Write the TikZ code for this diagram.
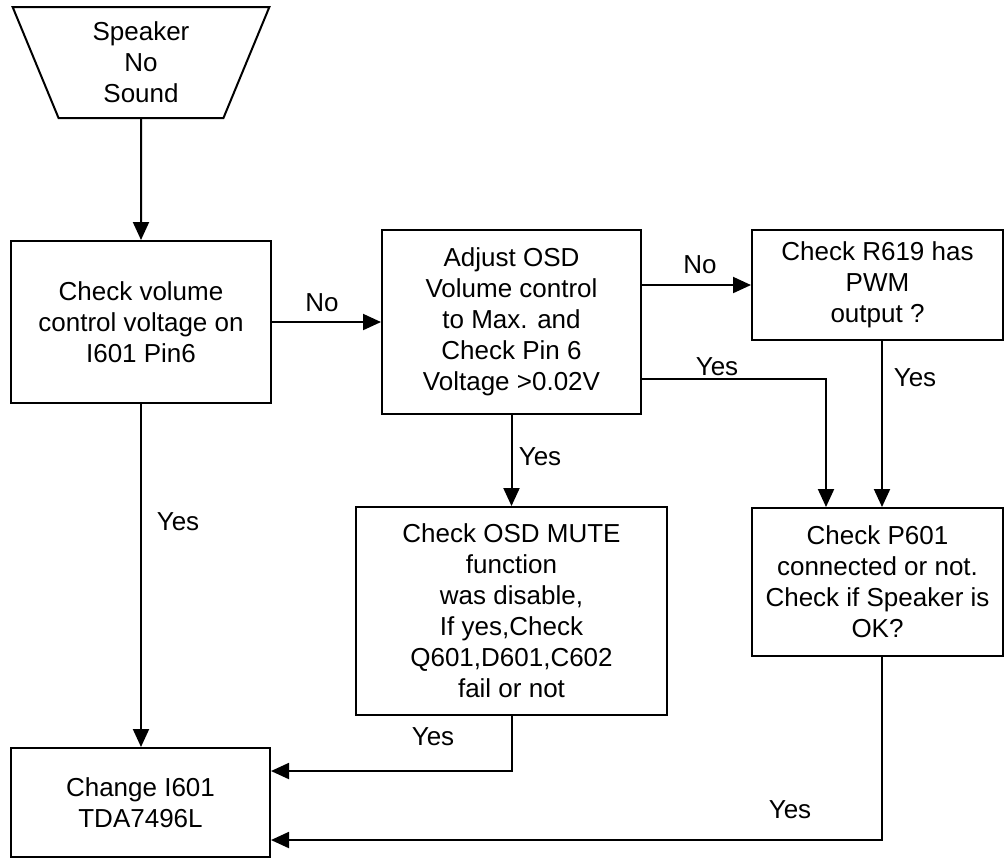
\documentclass[tikz,border=0pt]{standalone}
\usepackage{fontspec}
\setmainfont{Liberation Sans}
\usetikzlibrary{shapes.geometric,arrows.meta}

\begin{document}
\begin{tikzpicture}[x=0.5pt, y=-0.5pt, >={Triangle[length=9pt,width=8pt]},
    box/.style={draw, line width=1pt, align=center, inner sep=0pt,
      font=\fontsize{13}{15.5}\selectfont},
    lbl/.style={inner sep=0pt, font=\fontsize{13}{15.5}\selectfont},
    link/.style={line width=1pt}]
  \useasboundingbox (0,0) rectangle (1005,859);
  % ==== BOXES ====
  \node[box, trapezium, shape border rotate=180, trapezium left angle=71.6,
    trapezium right angle=71.6, trapezium stretches=true,
    minimum width=129pt, minimum height=55.5pt] (start) at (141,62.5) {Speaker\\No\\Sound};
  \node[box, minimum width=130pt, minimum height=81pt] (vol) at (141,322)
    {Check volume\\control voltage on\\I601 Pin6};
  \node[box, minimum width=129.5pt, minimum height=92pt] (osd) at (511.5,322)
    {Adjust OSD\\Volume control\\to Max. and\\Check Pin 6\\Voltage >0.02V};
  \node[box, minimum width=125.5pt, minimum height=55pt] (pwm) at (877.5,285)
    {Check R619 has\\PWM\\ output ?};
  \node[box, minimum width=125.5pt, minimum height=74pt] (spk) at (877.5,582)
    {Check P601\\connected or not.\\Check if Speaker is\\OK?};
  \node[box, minimum width=155.5pt, minimum height=104pt] (mute) at (511.5,611)
    {Check OSD MUTE\\function\\was disable,\\If yes,Check\\Q601,D601,C602\\fail or not};
  \node[box, minimum width=129.5pt, minimum height=54.5pt] (ic) at (140.5,802.5)
    {Change I601\\TDA7496L};
  % ==== HELPER POINTS ====
  \coordinate (bend1) at (826,379);
  \coordinate (bend2) at (511.5,771);
  \coordinate (bend3) at (882,840);
  % ==== ARROWS ====
  \draw[link, ->] (start.south) -- (vol.north);
  \draw[link, ->] (vol.east) -- (osd.west);
  \draw[link, ->] (osd.east |- pwm.west) -- (pwm.west);
  \draw[link, ->] (osd.east |- bend1) -| (spk.north -| bend1);
  \draw[link, ->] (pwm.south -| bend3) -- (spk.north -| bend3);
  \draw[link, ->] (osd.south) -- (mute.north);
  \draw[link, ->] (vol.south) -- (ic.north -| vol.south);
  \draw[link, ->] (mute.south) -- (bend2) -- (ic.east |- bend2);
  \draw[link, ->] (spk.south -| bend3) -- (bend3) -- (ic.east |- bend3);
  % ==== LABELS ====
  \node[lbl] (no1) at (322,303) {No};
  \node[lbl] (no2) at (700,265) {No};
  \node[lbl] (yes1) at (717,367) {Yes};
  \node[lbl] (yes2) at (915,378) {Yes};
  \node[lbl] (yes3) at (540,457) {Yes};
  \node[lbl] (yes4) at (178,522) {Yes};
  \node[lbl] (yes5) at (433,737) {Yes};
  \node[lbl] (yes6) at (790,810) {Yes};
\end{tikzpicture}
\end{document}
